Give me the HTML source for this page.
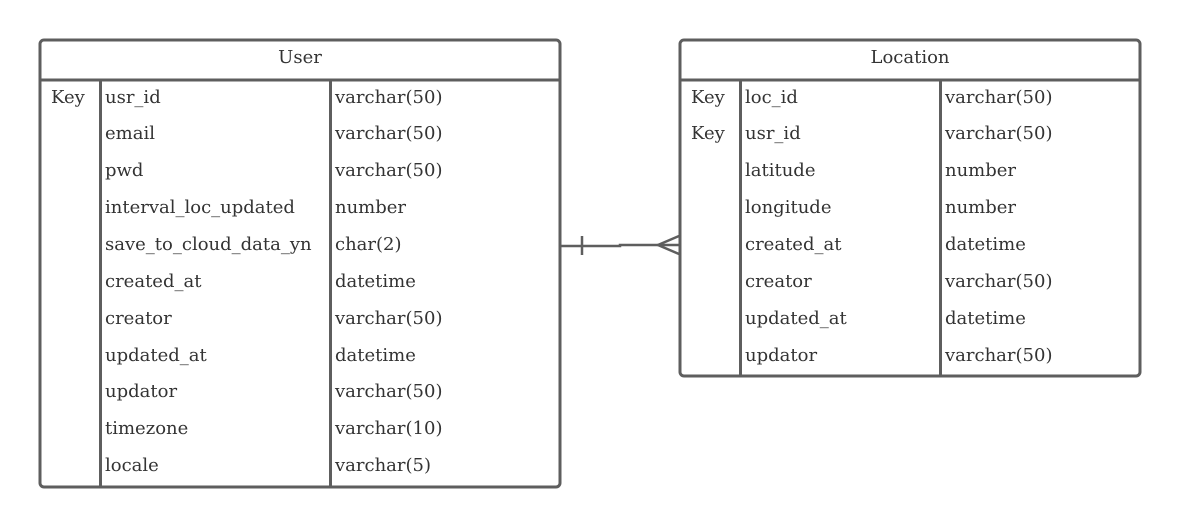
<!DOCTYPE html>
<html><head><meta charset="utf-8"><style>
html,body{margin:0;padding:0;background:#fff;}
svg text{font-family:"DejaVu Serif","Liberation Serif",serif;font-size:18px;fill:#333;}
</style></head><body>
<svg width="1180" height="527" viewBox="0 0 1180 527" xmlns="http://www.w3.org/2000/svg">
<g fill="none" stroke="#5e5e5e" stroke-width="3">
<rect x="40" y="40" width="520" height="447" rx="4"/>
<line x1="40" y1="80" x2="560" y2="80"/>
<line x1="100.5" y1="80" x2="100.5" y2="487"/>
<line x1="330.5" y1="80" x2="330.5" y2="487"/>
<rect x="680" y="40" width="460" height="336" rx="4"/>
<line x1="680" y1="80" x2="1140" y2="80"/>
<line x1="740.5" y1="80" x2="740.5" y2="376"/>
<line x1="940.5" y1="80" x2="940.5" y2="376"/>
<polyline points="561,246 620,246 620,245 679,245" stroke-width="2.5"/>
<line x1="582" y1="236" x2="582" y2="255" stroke-width="2.5"/>
<polyline points="679,236 658,245 679,254" stroke-width="2.5"/>
</g>
<g transform="translate(0,-1)">
<text x="300" y="64" text-anchor="middle">User</text>
<text x="910" y="64" text-anchor="middle">Location</text>
<text x="51" y="104">Key</text>
<text x="105" y="104">usr_id</text><text x="335" y="104">varchar(50)</text>
<text x="105" y="140">email</text><text x="335" y="140">varchar(50)</text>
<text x="105" y="177">pwd</text><text x="335" y="177">varchar(50)</text>
<text x="105" y="214">interval_loc_updated</text><text x="335" y="214">number</text>
<text x="105" y="251">save_to_cloud_data_yn</text><text x="335" y="251">char(2)</text>
<text x="105" y="288">created_at</text><text x="335" y="288">datetime</text>
<text x="105" y="325">creator</text><text x="335" y="325">varchar(50)</text>
<text x="105" y="362">updated_at</text><text x="335" y="362">datetime</text>
<text x="105" y="398">updator</text><text x="335" y="398">varchar(50)</text>
<text x="105" y="435">timezone</text><text x="335" y="435">varchar(10)</text>
<text x="105" y="472">locale</text><text x="335" y="472">varchar(5)</text>
<text x="691" y="104">Key</text>
<text x="745" y="104">loc_id</text><text x="945" y="104">varchar(50)</text>
<text x="691" y="140">Key</text>
<text x="745" y="140">usr_id</text><text x="945" y="140">varchar(50)</text>
<text x="745" y="177">latitude</text><text x="945" y="177">number</text>
<text x="745" y="214">longitude</text><text x="945" y="214">number</text>
<text x="745" y="251">created_at</text><text x="945" y="251">datetime</text>
<text x="745" y="288">creator</text><text x="945" y="288">varchar(50)</text>
<text x="745" y="325">updated_at</text><text x="945" y="325">datetime</text>
<text x="745" y="362">updator</text><text x="945" y="362">varchar(50)</text>
</g>
</svg>
</body></html>
